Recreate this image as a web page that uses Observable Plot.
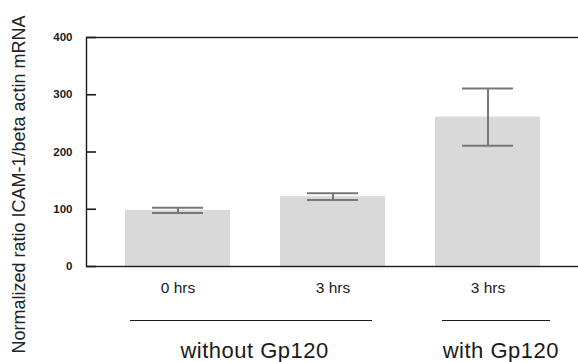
<!DOCTYPE html>
<html><head><meta charset="utf-8">
<script src="https://cdn.jsdelivr.net/npm/d3@7"></script>
<script src="https://cdn.jsdelivr.net/npm/@observablehq/plot@0.6"></script>
<style>
body{margin:0;background:#fff;overflow:hidden}
#chart svg{font-family:"Liberation Sans",Arial,sans-serif;}
</style>
</head><body><div id="chart"></div>
<script>
const categories = ["0hrs-without", "3hrs-without", "3hrs-with"];
const tickLabels = ["0 hrs", "3 hrs", "3 hrs"];
const means = [98, 122, 261];
const errors = [4.5, 6, 50];
const groupNames = ["without Gp120", "with Gp120"];
const groupFirst = ["0hrs-without", "3hrs-with"];
const groupLast = ["3hrs-without", "3hrs-with"];
const yTicks = [0, 100, 200, 300, 400];
const yTitle = "Normalized ratio ICAM-1/beta actin mRNA";

const W = 578, H = 362, ML = 86, MR = -2, MT = 37, MB = 96;
const data = categories.map((c, i) => ({cat: c, label: tickLabels[i], mean: means[i], lo: means[i] - errors[i], hi: means[i] + errors[i]}));
const groups = groupNames.map((g, i) => ({name: g, first: groupFirst[i], last: groupLast[i]}));
const labelOf = Object.fromEntries(categories.map((c, i) => [c, tickLabels[i]]));
const ink = "#1a1a1a";

const chart = Plot.plot({
  width: W, height: H,
  marginLeft: ML, marginRight: MR, marginTop: MT, marginBottom: MB,
  style: {overflow: "hidden", background: "#fff", fontFamily: "'Liberation Sans', Arial, sans-serif"},
  x: {type: "band", domain: categories, paddingInner: 0.32, paddingOuter: 0.25},
  y: {domain: [0, 400]},
  marks: [
    Plot.barY(data, {x: "cat", y: "mean", fill: "#d9d9d9"}),
    Plot.ruleX(data, {x: "cat", y1: "lo", y2: "hi", stroke: "#777", strokeWidth: 2}),
    Plot.tickY(data, {x: "cat", y: "hi", stroke: "#777", strokeWidth: 2, inset: 27}),
    Plot.tickY(data, {x: "cat", y: "lo", stroke: "#777", strokeWidth: 2, inset: 27}),
    Plot.frame({stroke: ink, strokeWidth: 1.4}),
    Plot.axisY({ticks: yTicks, tickSize: -10, tickFormat: () => "", label: null, stroke: ink, strokeWidth: 1.6}),
    Plot.axisY({ticks: yTicks, tickSize: 0, tickPadding: 14, label: null, fontWeight: "bold", fontSize: 11.5, fill: ink}),
    Plot.axisX({tickSize: 0, tickPadding: 15, label: null, tickFormat: d => labelOf[d], fontSize: 15.5, fill: ink}),
    Plot.text([yTitle], {frameAnchor: "left", textAnchor: "middle", rotate: -90, dx: 19 - ML, dy: 184 - (MT + H - MB) / 2, fontSize: 18, fill: "#222"}),
    Plot.ruleY([groups[0]], {x1: "first", x2: "last", y: () => 0, dy: 54, insetLeft: 5, insetRight: 13, stroke: ink, strokeWidth: 1.2}),
    Plot.ruleY([groups[1]], {x1: "first", x2: "last", y: () => 0, dy: 54, insetLeft: 7, insetRight: -10, stroke: ink, strokeWidth: 1.2}),
    Plot.text([groups[0]], {x: "last", y: () => 0, text: "name", dx: -78.4, dy: 84, fontSize: 22, fill: ink}),
    Plot.text([groups[1]], {x: "last", y: () => 0, text: "name", dx: 12.8, dy: 84, fontSize: 22, fill: ink})
  ]
});
chart.querySelectorAll("text").forEach(t => {
  if (t.textContent === groupNames[0] || t.textContent === groupNames[1]) t.style.letterSpacing = "0.5px";
});
document.getElementById("chart").appendChild(chart);
</script>
</body></html>
